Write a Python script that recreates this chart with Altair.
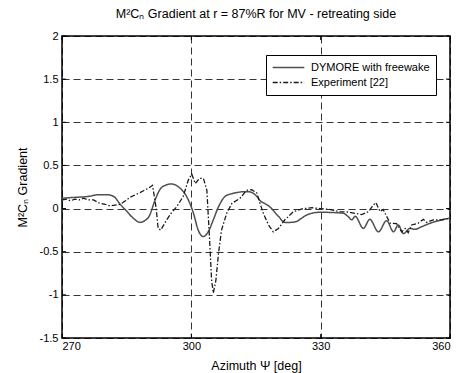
import altair as alt
import pandas as pd

# ---- data ----
dymore_az = [270, 273, 276, 278.5, 280.5, 282, 283.5, 285, 286.5, 288.1,
             289.2, 290.2, 291.6, 292.7, 294, 295.4, 297.4, 298.9, 300.5, 301.6,
             302.8, 303.9, 305.1, 306.3, 307.8, 309.2, 310.5, 312, 313.2, 314.3,
             315.2, 316, 317, 318.2, 320.2, 321.7, 323, 324.4, 325.6, 326.8,
             328.3, 329.8, 332.5, 335.3, 336.3, 337.2, 338.0, 339.9, 341.4, 343.4,
             345.3, 346.9, 348.0, 349.2, 350.7, 351.9, 353.4, 355.4, 358.1, 360]
dymore_val = [0.12, 0.13, 0.14, 0.16, 0.16, 0.14, 0.05, -0.03, -0.11, -0.16,
              -0.14, -0.09, 0.10, 0.22, 0.27, 0.285, 0.235, 0.14, -0.055, -0.25,
              -0.325, -0.27, -0.13, 0.02, 0.14, 0.17, 0.185, 0.195, 0.196, 0.18,
              0.14, 0.09, 0.06, 0.02, -0.09, -0.16, -0.16, -0.15, -0.11, -0.074,
              -0.05, -0.043, -0.045, -0.055, -0.09, -0.13, -0.09, -0.23, -0.125, -0.27,
              -0.14, -0.27, -0.19, -0.29, -0.23, -0.24, -0.21, -0.17, -0.13, -0.11]

exp_az = [270, 271, 272, 273, 274, 275, 276, 277.3, 278.8, 280,
          281.1, 282.3, 283.5, 284.7, 285.8, 287, 288.1, 289, 290, 291,
          291.8, 292.3, 292.9, 294.3, 295.5, 296.6, 298.1, 299.3, 300.1, 300.9,
          301.9, 302.8, 303.6, 304.2, 304.7, 305.1, 305.7, 306.3, 307.0, 308.2,
          309.4, 311.3, 312.8, 314, 315.2, 316.0, 316.7, 317.9, 319, 320.2,
          321.7, 323.7, 326, 328, 329.8, 332, 334.5, 336.5, 338.0, 339.5,
          341.1, 342.2, 342.8, 343.8, 344.5, 345.3, 346.1, 347.6, 348.8, 349.6,
          350.3, 351.1, 352.6, 353.8, 354.6, 356.1, 358.1, 360]
exp_val = [0.10, 0.11, 0.09, 0.11, 0.10, 0.12, 0.10, 0.10, 0.06, 0.05,
           0.03, 0.04, 0.05, 0.09, 0.13, 0.16, 0.185, 0.21, 0.235, 0.27,
           0.02, -0.23, -0.25, -0.13, -0.04, 0.02, 0.14, 0.33, 0.40, 0.29,
           0.35, 0.35, 0.215, -0.325, -0.83, -0.98, -0.83, -0.52, -0.25, -0.055,
           0.06, 0.12, 0.21, 0.22, 0.18, 0.05, -0.055, -0.19, -0.27, -0.23,
           -0.13, -0.035, 0.0, 0.01, 0.0, -0.01, -0.035, -0.04, -0.055, -0.07,
           -0.035, 0.04, 0.07, -0.035, -0.01, -0.09, -0.17, -0.175, -0.27, -0.23,
           -0.28, -0.19, -0.17, -0.125, -0.16, -0.13, -0.13, -0.11]

series_names = ["DYMORE with freewake", "Experiment [22]"]
x_ticks = [270, 300, 330, 360]
y_ticks = [-1.5, -1, -0.5, 0, 0.5, 1, 1.5, 2]

W, H = 388, 302
FONT = "Liberation Sans"

df_d = pd.DataFrame({"az": dymore_az, "val": dymore_val, "series": series_names[0]})
df_e = pd.DataFrame({"az": exp_az, "val": exp_val, "series": series_names[1]})

xscale = alt.Scale(domain=[270, 360], nice=False, zero=False)
yscale = alt.Scale(domain=[-1.5, 2], nice=False, zero=False)

color_scale = alt.Scale(domain=series_names, range=["#505050", "#1a1a1a"])
dash_scale = alt.Scale(domain=series_names, range=[[1, 0], [5, 2, 1.5, 2]])
leg = alt.Legend(title=None, orient="none", legendX=204, legendY=19,
                 symbolType="stroke", symbolSize=1000, symbolStrokeWidth=1.3,
                 clipHeight=13,
                 labelFontSize=11, labelFont=FONT, labelColor="black",
                 fillColor="white", strokeColor="black", padding=6,
                 rowPadding=2, labelOffset=6)

x_enc = alt.X("az:Q", scale=xscale,
              axis=alt.Axis(values=x_ticks, title="Azimuth Ψ [deg]", grid=True,
                            labelExpr="datum.value + ''", labelPadding=2, titlePadding=8))
y_enc = alt.Y("val:Q", scale=yscale,
              axis=alt.Axis(values=y_ticks, title="M²Cₙ Gradient", grid=True,
                            labelExpr="datum.value + ''", labelPadding=4, titlePadding=10))

line_d = alt.Chart(df_d).mark_line(clip=True, strokeWidth=1.5, interpolate="monotone").encode(
    x=x_enc, y=y_enc,
    color=alt.Color("series:N", scale=color_scale, legend=leg),
    strokeDash=alt.StrokeDash("series:N", scale=dash_scale, legend=leg),
)
line_e = alt.Chart(df_e).mark_line(clip=True, strokeWidth=1.3).encode(
    x="az:Q", y="val:Q",
    color=alt.Color("series:N", scale=color_scale, legend=leg),
    strokeDash=alt.StrokeDash("series:N", scale=dash_scale, legend=leg),
)

yt = pd.DataFrame({"v": y_ticks})
xt = pd.DataFrame({"v": x_ticks})
tick_left = alt.Chart(yt).mark_rule(color="black", strokeWidth=1).encode(y="v:Q", x=alt.value(0), x2=alt.value(4))
tick_right = alt.Chart(yt).mark_rule(color="black", strokeWidth=1).encode(y="v:Q", x=alt.value(W - 4), x2=alt.value(W))
tick_bottom = alt.Chart(xt).mark_rule(color="black", strokeWidth=1).encode(x="v:Q", y=alt.value(H - 4), y2=alt.value(H))
tick_top = alt.Chart(xt).mark_rule(color="black", strokeWidth=1).encode(x="v:Q", y=alt.value(0), y2=alt.value(4))

chart = alt.layer(line_d, line_e, tick_left, tick_right, tick_bottom, tick_top).properties(
    width=W, height=H,
    title=alt.TitleParams("M²Cₙ Gradient at r = 87%R for MV - retreating side",
                          font=FONT, fontSize=12.5, fontWeight="normal", color="black", offset=10),
    autosize=alt.AutoSizeParams(type="none"),
    padding={"left": 62, "top": 36, "right": 13, "bottom": 35},
).configure_view(
    stroke="black", strokeWidth=1.5
).configure_axis(
    domain=False, ticks=False, gridColor="black", gridDash=[7, 4], gridWidth=0.8, gridOpacity=1,
    labelFont=FONT, labelFontSize=11, labelColor="black",
    titleFont=FONT, titleFontSize=12.5, titleFontWeight="normal", titleColor="black",
)

chart.save("out.html", embed_options={"renderer": "svg", "actions": False})
